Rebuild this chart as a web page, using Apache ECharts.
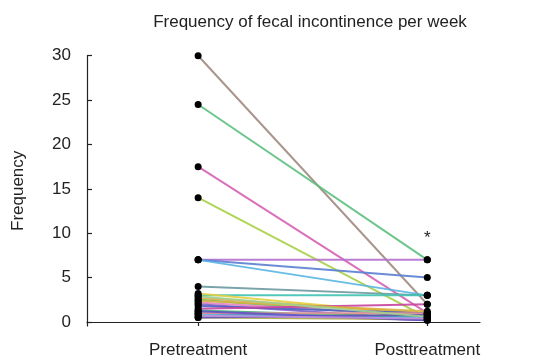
<!DOCTYPE html>
<html>
<head>
<meta charset="utf-8">
<script src="https://cdn.jsdelivr.net/npm/echarts@6/dist/echarts.min.js"></script>
<style>html,body{margin:0;padding:0;background:#fff}#c{width:535px;height:361px}</style>
</head>
<body>
<div id="c"></div>
<script>
const title = 'Frequency of fecal incontinence per week';
const categories = ['Pretreatment', 'Posttreatment'];
const yTicks = [0, 5, 10, 15, 20, 25, 30];
const preValues  = [30, 24.5, 17.5, 14, 7, 7, 7, 4, 3, 3.2, 2.7, 2.5, 2.2, 2, 1.8, 1.5, 1.3, 1, 1, 0.8, 0.5, 0.5, 2.4, 1.2, 2.9, 0.7];
const postValues = [2, 7, 1, 0.5, 7, 5, 3, 3, 3, 0.8, 1, 0.5, 0.7, 0.3, 1, 2, 0.5, 0.2, 1, 0.5, 0.3, 0.8, 1.2, 0.2, 0.6, 0.4];
const significant = [false, true, false, false, false, false, false, false, false, false, false, false, false, false, false, false, false, false, false, false, false, false, false, false, false, false];
const lineColors = ['#a08a80', '#5cc07e', '#d660b4', '#a6d046', '#b46ed2', '#5a7fd2', '#56b4e2', '#6a98a0', '#3ec2b2', '#e2d040', '#e6a846', '#62c062', '#e684c4', '#8462c4', '#4a62c2', '#c8449e', '#44a878', '#7446a6', '#e69696', '#46c4d4', '#a8a844', '#6452b4', '#d8b040', '#5e50c8', '#9fd090', '#c090e0'];

const font = 'Liberation Sans, Arial, sans-serif';
const series = preValues.map((pre, i) => ({
  type: 'line',
  data: [[1, pre], [2, postValues[i]]],
  symbol: 'circle',
  symbolSize: 7,
  itemStyle: { color: '#000' },
  lineStyle: { color: lineColors[i], width: 2, opacity: 0.9 },
  z: 2,
  silent: true,
  animation: false,
  label: {
    show: significant[i],
    position: 'top',
    distance: 10,
    fontFamily: font,
    fontSize: 17,
    color: '#222',
    formatter: p => (p.dataIndex === 1 ? '*' : '')
  }
}));

const chart = echarts.init(document.getElementById('c'), null, { renderer: 'canvas' });
chart.setOption({
  backgroundColor: '#fff',
  animation: false,
  title: {
    text: title,
    left: 305,
    top: 9,
    textAlign: 'center',
    textStyle: { fontFamily: font, fontSize: 17, fontWeight: 'normal', color: '#222' }
  },
  grid: { left: 87, right: 55, top: 55.7, bottom: 35 },
  xAxis: {
    type: 'value',
    min: 0.515,
    max: 2.23,
    splitLine: { show: false },
    axisLine: { show: true, lineStyle: { color: '#222', width: 1.2 } },
    axisTick: { show: true, inside: false, length: 4, customValues: [1, 2], lineStyle: { color: '#222', width: 1.2 } },
    axisLabel: {
      customValues: [1, 2],
      formatter: v => categories[Math.round(v) - 1] || '',
      margin: 16,
      fontFamily: font, fontSize: 17, color: '#222'
    }
  },
  yAxis: {
    type: 'value',
    min: -0.45,
    max: 30,
    name: 'Frequency',
    nameLocation: 'middle',
    nameGap: 60,
    nameRotate: 90,
    nameTextStyle: { fontFamily: font, fontSize: 17, color: '#222' },
    splitLine: { show: false },
    axisLine: { show: true, lineStyle: { color: '#222', width: 1.2 } },
    axisTick: { show: true, inside: true, length: 5, customValues: yTicks, lineStyle: { color: '#222', width: 1.2 } },
    axisLabel: { customValues: yTicks, margin: 16, fontFamily: font, fontSize: 17, color: '#222' }
  },
  series: series
});
</script>
</body>
</html>
